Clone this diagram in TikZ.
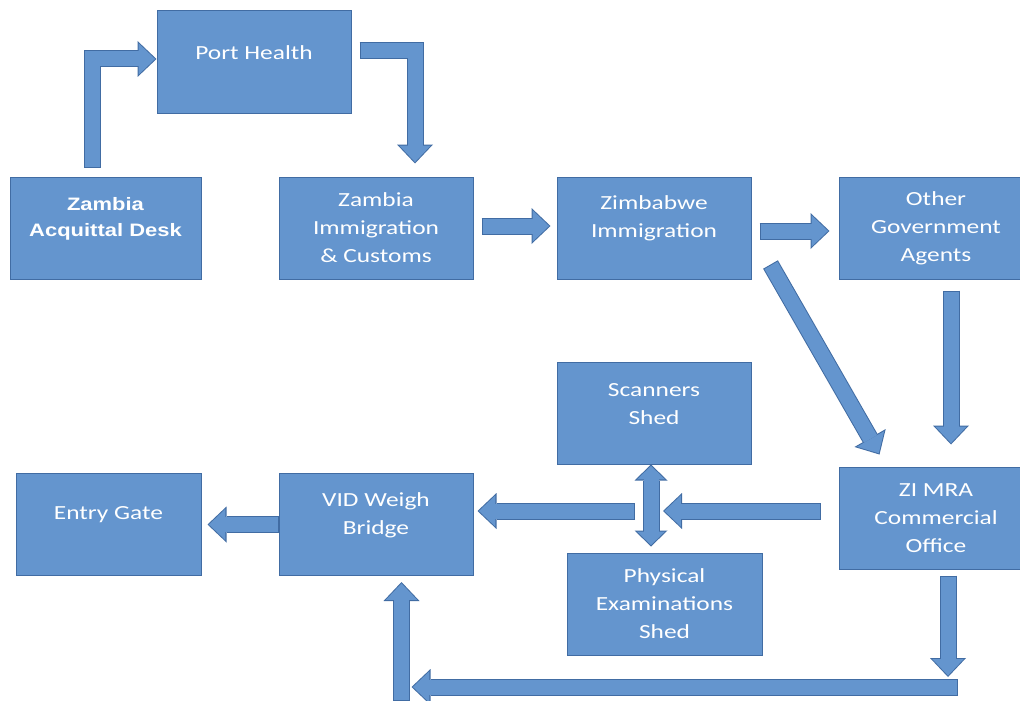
\documentclass[tikz,border=0pt]{standalone}
\usepackage{tikz}
\usepackage{xcolor}
\usepackage{fontspec}
\usetikzlibrary{arrows.meta, calc}

\newfontfamily\boxfont[FakeStretch=1.27]{Carlito}
\newfontfamily\deskfont[FakeStretch=1.22]{Liberation Sans}
\newcommand\lift[1][18pt]{\rule[-#1]{0pt}{0pt}}

\begin{document}
\begin{tikzpicture}[x=1pt, y=-1pt,
  box/.style={rectangle, fill=boxblue, draw=edgeblue, line width=1pt, minimum width=\boxW, minimum height=\boxH,
    inner sep=0pt, align=center, text=white, font=\boxfont\fontsize{20}{28}\selectfont},
  barrow/.style={line width=17pt, draw=edgeblue, line join=miter,
    -{Triangle[length=19pt, width=36pt, line width=0pt]},
    postaction={draw=boxblue, line width=15pt, shorten <=1pt, shorten >=1.45pt,
      -{Triangle[length=16.5pt, width=31.4pt, line width=0pt]}}},
  dbarrow/.style={line width=17pt, draw=edgeblue, line join=miter,
    {Triangle[length=16pt, width=33pt, line width=0pt]}-{Triangle[length=16pt, width=33pt, line width=0pt]},
    postaction={draw=boxblue, line width=15pt, shorten <=1.45pt, shorten >=1.45pt,
      {Triangle[length=13.5pt, width=28pt, line width=0pt]}-{Triangle[length=13.5pt, width=28pt, line width=0pt]}}}]

% Define box size
\def\boxW{194pt}
\def\boxH{102pt}

% Define colors
\definecolor{boxblue}{RGB}{100,149,206}
\definecolor{edgeblue}{RGB}{65,108,163}

% Draw white page
\path[use as bounding box, fill=white] (0,0) rectangle (1020,701);

% Draw top row of boxes
\node[box] (ph) at (254,62) {Port Health\lift};
\node[box, minimum width=191pt, font=\deskfont\bfseries\fontsize{18}{26}\selectfont] (zad) at (105.5,228) {Zambia\\Acquittal Desk\lift[22pt]};
\node[box] (zic) at (376,228) {Zambia\\Immigration\\\& Customs};
\node[box] (zbi) at (654,228) {Zimbabwe\\Immigration\lift[22pt]};
\node[box] (oga) at (936,228) {Other\\Government\\Agents};

% Draw bottom boxes
\node[box] (scn) at (654,413) {Scanners\\Shed\lift};
\node[box] (zim) at (936,518) {ZI MRA\\Commercial\\Office};
\node[box, minimum width=195pt] (pes) at (664.5,604) {Physical\\Examinations\\Shed};
\node[box, minimum width=185pt] (gate) at (108.5,524.5) {Entry Gate\lift[22pt]};
\node[box] (vid) at (376,524.5) {VID Weigh\\Bridge\lift[22pt]};

% Draw arrows along the top
\draw[barrow] ($(zad.north)+(-13,-9)$) |- ($(ph.west)+(0,-3)$);
\draw[barrow] ($(ph.east)+(8,-11)$) -| ($(zic.north)+(39,-13)$);
\draw[barrow] ($(zic.east)+(8,-2)$) -- ($(zbi.west)+(-6,-2)$);
\draw[barrow] ($(zbi.east)+(8,3)$) -- ($(oga.west)+(-9,3)$);

% Draw arrows down to ZIMRA
\draw[barrow] ($(zbi.south east)+(19,-15)$) -- ($(zim.north west)+(41,-12)$);
\draw[barrow] ($(oga.south)+(15,11)$) -- ($(zim.north)+(15,-22)$);

% Draw two-way arrow between the sheds
\coordinate (hub) at (651,511);
\draw[dbarrow] (hub |- scn.south) -- ($(hub |- pes.north)+(0,-6)$);

% Draw arrows from ZIMRA to the gate
\draw[barrow] ($(zim.west |- hub)+(-18,0)$) -- ($(hub)+(12,0)$);
\draw[barrow] ($(hub)+(-16,0)$) -- ($(vid.east |- hub)+(4,0)$);
\draw[barrow] (vid.west) -- ($(gate.east)+(6,0)$);

% Draw the way round the bottom
\coordinate (bar) at (958,687);
\coordinate (turn) at (401.5,687);
\draw[barrow] ($(zim.south)+(12,6)$) -- ($(zim.south |- bar)+(12,-10)$);
\draw[barrow] ($(turn)+(0,14)$) -- ($(vid.south)+(25.5,6)$);
\draw[barrow] (bar) -- ($(turn)+(10,0)$);

\end{tikzpicture}
\end{document}
